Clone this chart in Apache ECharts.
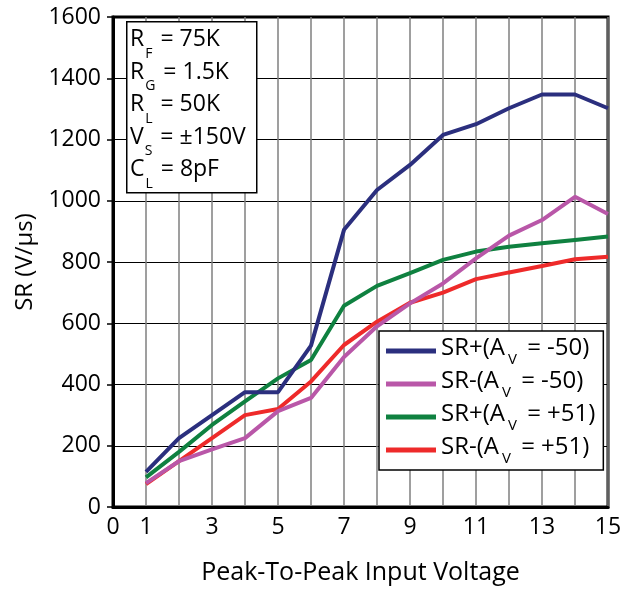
<!DOCTYPE html>
<html>
<head>
<meta charset="utf-8">
<script src="https://cdn.jsdelivr.net/npm/echarts@6/dist/echarts.min.js"></script>
<style>
  html, body { margin: 0; padding: 0; background: #fff; }
  #chart { width: 633px; height: 590px; }
</style>
</head>
<body>
<div id="chart"></div>
<script>
// input voltage (Vpp)
const vin = [1, 2, 3, 4, 5, 6, 7, 8, 9, 10, 11, 12, 13, 14, 15];
// slew rate values (V/us)
const srPosInv = [115, 225, 300, 375, 375, 527, 905, 1035, 1117, 1215, 1250, 1302, 1347, 1347, 1302];
const srNegInv = [78, 150, 188, 225, 313, 356, 490, 590, 665, 730, 812, 886, 937, 1013, 957];
const srPosNon = [97, 180, 268, 345, 420, 480, 657, 722, 764, 807, 834, 850, 861, 872, 883];
const srNegNon = [75, 150, 225, 300, 320, 410, 529, 605, 667, 700, 744, 766, 787, 809, 817];

const seriesNames = ["SR+(Av=-50)", "SR-(Av=-50)", "SR+(Av=+51)", "SR-(Av=+51)"];
const legendLabels = {
  "SR+(Av=-50)": "{a|SR+(A}{s|V}{a| = -50)}",
  "SR-(Av=-50)": "{a|SR-(A}{s|V}{a| = -50)}",
  "SR+(Av=+51)": "{a|SR+(A}{s|V}{a| = +51)}",
  "SR-(Av=+51)": "{a|SR-(A}{s|V}{a| = +51)}"
};
const colors = ["#2B2F7E", "#B957A8", "#0F8140", "#EE2A2A"];

const FONT = "Open Sans";

function pairs(ys) {
  return vin.map((x, i) => [x, ys[i]]);
}

const chart = echarts.init(document.getElementById("chart"));

const option = {
  animation: false,
  grid: {
    left: 113,
    right: 25,
    top: 17,
    bottom: 83,
    show: true,
    borderColor: "#000",
    borderWidth: 3
  },
  xAxis: {
    type: "value",
    min: 0,
    max: 15,
    interval: 1,
    name: "Peak-To-Peak Input Voltage",
    nameLocation: "middle",
    nameGap: 53,
    nameTextStyle: { fontFamily: FONT, fontSize: 25, color: "#000" },
    axisLine: { lineStyle: { color: "#000", width: 3 } },
    axisTick: { show: false },
    axisLabel: {
      fontFamily: FONT,
      fontSize: 23,
      color: "#000",
      margin: 9,
      formatter: v => (v === 0 || v % 2 === 1 ? String(v) : "")
    },
    splitLine: { show: true, lineStyle: { color: "#7f7f7f", width: 1.5 } }
  },
  yAxis: {
    type: "value",
    min: 0,
    max: 1600,
    interval: 200,
    name: "SR (V/µs)",
    nameLocation: "middle",
    nameGap: 71,
    nameTextStyle: { fontFamily: FONT, fontSize: 24, color: "#000" },
    axisLine: { show: true, lineStyle: { color: "#000", width: 3 } },
    axisTick: { show: true, length: 6, lineStyle: { color: "#000", width: 1.5 } },
    axisLabel: {
      fontFamily: FONT,
      fontSize: 23,
      color: "#000",
      margin: 12,
      formatter: v => String(v)
    },
    splitLine: { show: true, lineStyle: { color: "#000", width: 1.2 } }
  },
  legend: {
    orient: "vertical",
    left: 379,
    top: 331,
    backgroundColor: "#fff",
    borderColor: "#000",
    borderWidth: 1.5,
    borderRadius: 0,
    padding: [5, 8, 4, 7],
    itemGap: 2,
    itemWidth: 50,
    itemHeight: 5,
    icon: "rect",
    data: seriesNames,
    formatter: name => legendLabels[name],
    textStyle: {
      color: "#000",
      rich: {
        a: { fontFamily: FONT, fontSize: 24, color: "#000", lineHeight: 30, verticalAlign: "top" },
        s: { fontFamily: FONT, fontSize: 15, color: "#000", lineHeight: 15, padding: [16, 4, 0, 3], verticalAlign: "top" }
      }
    }
  },
  graphic: [
    {
      type: "rect",
      left: 126,
      top: 21,
      shape: { width: 130, height: 171 },
      style: { fill: "#fff", stroke: "#000", lineWidth: 1.5 },
      z: 100
    },
    {
      type: "text",
      left: 130,
      top: 28,
      z: 101,
      style: {
        text: [
          "{a|R}{s|F}{a| = 75K}",
          "{a|R}{s|G}{a| = 1.5K}",
          "{a|R}{s|L}{a| = 50K}",
          "{a|V}{s|S}{a| = ±150V}",
          "{a|C}{s|L}{a| = 8pF}"
        ].join("\n"),
        rich: {
          a: { fontFamily: FONT, fontSize: 23, fill: "#000", lineHeight: 32.5, verticalAlign: "top" },
          s: { fontFamily: FONT, fontSize: 14, fill: "#000", lineHeight: 15, padding: [19, 2, 0, 1], verticalAlign: "top" }
        }
      }
    }
  ],
  series: [srPosInv, srNegInv, srPosNon, srNegNon].map((ys, i) => ({
    name: seriesNames[i],
    type: "line",
    data: pairs(ys),
    showSymbol: false,
    symbol: "none",
    lineStyle: { color: colors[i], width: 4 },
    itemStyle: { color: colors[i] },
    z: 10 - i
  }))
};

chart.setOption(option);
</script>
</body>
</html>
